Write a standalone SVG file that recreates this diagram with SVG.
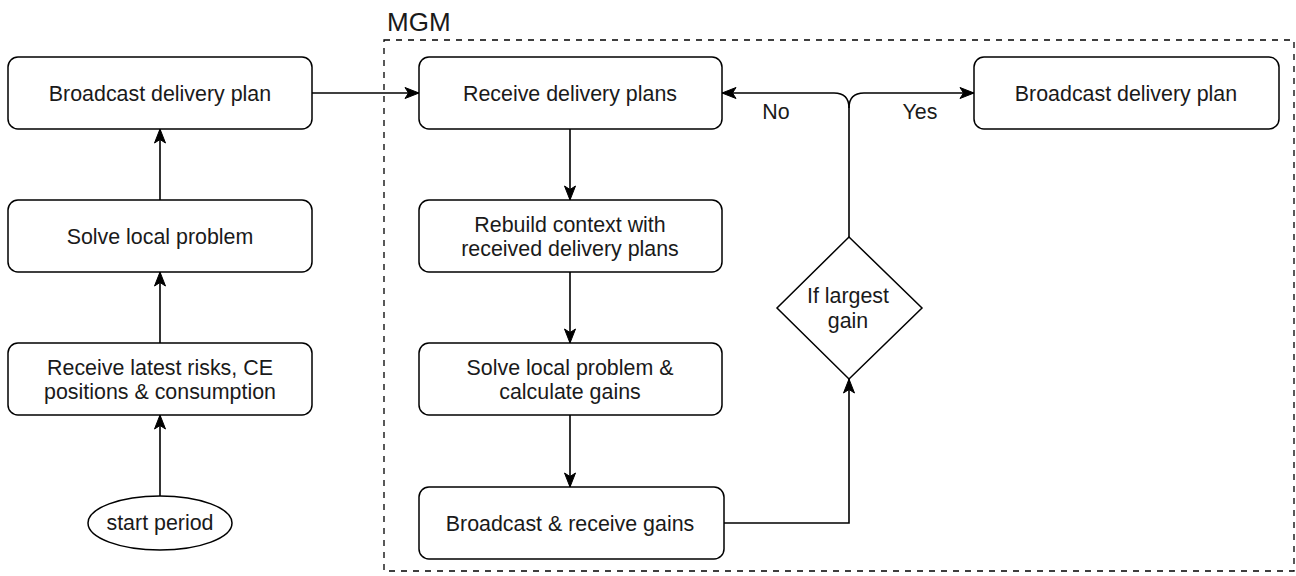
<svg xmlns="http://www.w3.org/2000/svg" width="1296" height="576" viewBox="0 0 1296 576">
  <style>
    .box { fill: #ffffff; stroke: #000000; stroke-width: 1.5; }
    .lbl { font-family: "Liberation Sans", Arial, Helvetica, sans-serif; font-size: 21.4px; fill: #1a1a1a; text-anchor: middle; }
    .edge { fill: none; stroke: #000000; stroke-width: 1.6; }
    .frame { fill: none; stroke: #000000; stroke-width: 1.3; stroke-dasharray: 6 6; }
  </style>
  <defs>
    <marker id="arrow" markerUnits="userSpaceOnUse" markerWidth="16" markerHeight="14" refX="15" refY="7" orient="auto">
      <path d="M1,1.5 L15,7 L1,12.5 L4.5,7 Z" fill="#000000" stroke="#000000" stroke-width="1"/>
    </marker>
  </defs>

  <rect width="1296" height="576" fill="#ffffff"/>

  <!-- MGM container -->
  <g id="mgm">
    <rect class="frame" x="384" y="40" width="910" height="531"/>
    <text x="387" y="31" font-family="'Liberation Sans', Arial, Helvetica, sans-serif" font-size="26" fill="#1a1a1a">MGM</text>
  </g>

  <!-- connectors -->
  <g id="connectors">
    <path class="edge" d="M160,496 L160,415" marker-end="url(#arrow)"/>
    <path class="edge" d="M160,343 L160,272" marker-end="url(#arrow)"/>
    <path class="edge" d="M160,200 L160,129" marker-end="url(#arrow)"/>
    <path class="edge" d="M312,93 L419,93" marker-end="url(#arrow)"/>
    <path class="edge" d="M570,129 L570,200" marker-end="url(#arrow)"/>
    <path class="edge" d="M570,272 L570,343" marker-end="url(#arrow)"/>
    <path class="edge" d="M570,415 L570,487" marker-end="url(#arrow)"/>
    <path class="edge" d="M724,523 L849,523 L849,379" marker-end="url(#arrow)"/>
    <path class="edge" d="M849,237 L849,108 Q849,93 834,93 L722,93" marker-end="url(#arrow)"/>
    <path class="edge" d="M849,108 Q849,93 864,93 L974,93" marker-end="url(#arrow)"/>
    <text class="lbl" x="776" y="119">No</text>
    <text class="lbl" x="920" y="119">Yes</text>
  </g>

  <!-- left column -->
  <g id="start-period">
    <ellipse class="box" cx="160" cy="523" rx="72" ry="27"/>
    <text class="lbl" x="160" y="530">start period</text>
  </g>
  <g id="receive-latest">
    <rect class="box" x="8" y="343" width="304" height="72" rx="10"/>
    <text class="lbl" x="160" y="375">Receive latest risks, CE</text>
    <text class="lbl" x="160" y="399">positions &amp; consumption</text>
  </g>
  <g id="solve-local">
    <rect class="box" x="8" y="200" width="304" height="72" rx="10"/>
    <text class="lbl" x="160" y="244">Solve local problem</text>
  </g>
  <g id="broadcast-left">
    <rect class="box" x="8" y="57" width="304" height="72" rx="10"/>
    <text class="lbl" x="160" y="101">Broadcast delivery plan</text>
  </g>

  <!-- MGM column -->
  <g id="receive-plans">
    <rect class="box" x="419" y="57" width="303" height="72" rx="10"/>
    <text class="lbl" x="570" y="101">Receive delivery plans</text>
  </g>
  <g id="rebuild-context">
    <rect class="box" x="419" y="200" width="303" height="72" rx="10"/>
    <text class="lbl" x="570" y="232">Rebuild context with</text>
    <text class="lbl" x="570" y="256">received delivery plans</text>
  </g>
  <g id="solve-gains">
    <rect class="box" x="419" y="343" width="303" height="72" rx="10"/>
    <text class="lbl" x="570" y="375">Solve local problem &amp;</text>
    <text class="lbl" x="570" y="399">calculate gains</text>
  </g>
  <g id="broadcast-gains">
    <rect class="box" x="419" y="487" width="305" height="72" rx="10"/>
    <text class="lbl" x="570" y="531">Broadcast &amp; receive gains</text>
  </g>
  <g id="largest-gain">
    <polygon class="box" points="849,237 922,308 849,379 777,308"/>
    <text class="lbl" x="848" y="303">If largest</text>
    <text class="lbl" x="848" y="328">gain</text>
  </g>
  <g id="broadcast-right">
    <rect class="box" x="974" y="57" width="305" height="72" rx="10"/>
    <text class="lbl" x="1126" y="101">Broadcast delivery plan</text>
  </g>
</svg>
